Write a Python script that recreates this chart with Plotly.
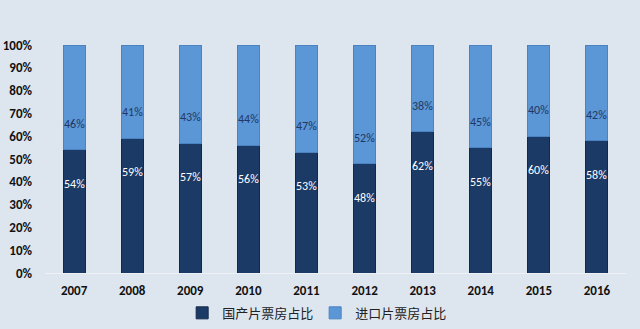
import plotly.graph_objects as go

# Box-office share by year: domestic vs imported films
years = ["2007", "2008", "2009", "2010", "2011", "2012", "2013", "2014", "2015", "2016"]
domestic = [54, 59, 57, 56, 53, 48, 62, 55, 60, 58]
imported = [46, 41, 43, 44, 47, 52, 38, 45, 40, 42]
series_names = ["国产片票房占比", "进口片票房占比"]
y_ticks = [0, 10, 20, 30, 40, 50, 60, 70, 80, 90, 100]
y_tick_text = [f"{v}%" for v in y_ticks]

DARK = "#1c3a66"
LIGHT = "#5b96d7"
BG = "#dde5ef"
NUM_FONT = "Carlito, Open Sans, Liberation Sans, sans-serif"

fig = go.Figure()
fig.add_trace(go.Bar(
    x=years, y=domestic, name=series_names[0],
    marker=dict(color=DARK, line=dict(color="#14294a", width=1)),
    hoverinfo="skip",
))
fig.add_trace(go.Bar(
    x=years, y=imported, name=series_names[1],
    marker=dict(color=LIGHT, line=dict(color="#4a82c2", width=1)),
    hoverinfo="skip",
))

# value labels sit on either side of the segment boundary
# (category index used for x so numeric-looking years aren't read as coordinates)
for i, (d, m) in enumerate(zip(domestic, imported)):
    fig.add_annotation(x=i, y=d, text=f"{d}%", showarrow=False, yshift=-34,
                       font=dict(color="white", size=12, family=NUM_FONT))
    fig.add_annotation(x=i, y=d, text=f"{m}%", showarrow=False, yshift=26,
                       font=dict(color="#1f3864", size=12, family=NUM_FONT))

fig.update_layout(
    width=640, height=329,
    barmode="stack", bargap=0.62,
    paper_bgcolor=BG, plot_bgcolor=BG,
    margin=dict(l=45, r=14, t=45, b=56, autoexpand=False),
    showlegend=True,
    legend=dict(orientation="h", x=0.465, xanchor="center", y=-0.175, yanchor="middle",
                font=dict(family="Noto Sans CJK SC", size=13, color="#222"),
                itemwidth=30, entrywidth=88, traceorder="normal"),
    xaxis=dict(type="category", range=[-0.5, len(years) - 0.5], automargin=False,
               showgrid=False, zeroline=False, showline=False, ticks="",
               ticklabelstandoff=8,
               tickfont=dict(family=NUM_FONT, size=13, color="#111", weight="bold")),
    yaxis=dict(range=[0, 100], tickvals=y_ticks, ticktext=y_tick_text, automargin=False,
               showgrid=False, zeroline=True, zerolinecolor="#eef2f7", zerolinewidth=1,
               showline=False, ticks="", ticklabelstandoff=12,
               tickfont=dict(family=NUM_FONT, size=13, color="#111", weight="bold")),
)

fig.write_html("out.html")
